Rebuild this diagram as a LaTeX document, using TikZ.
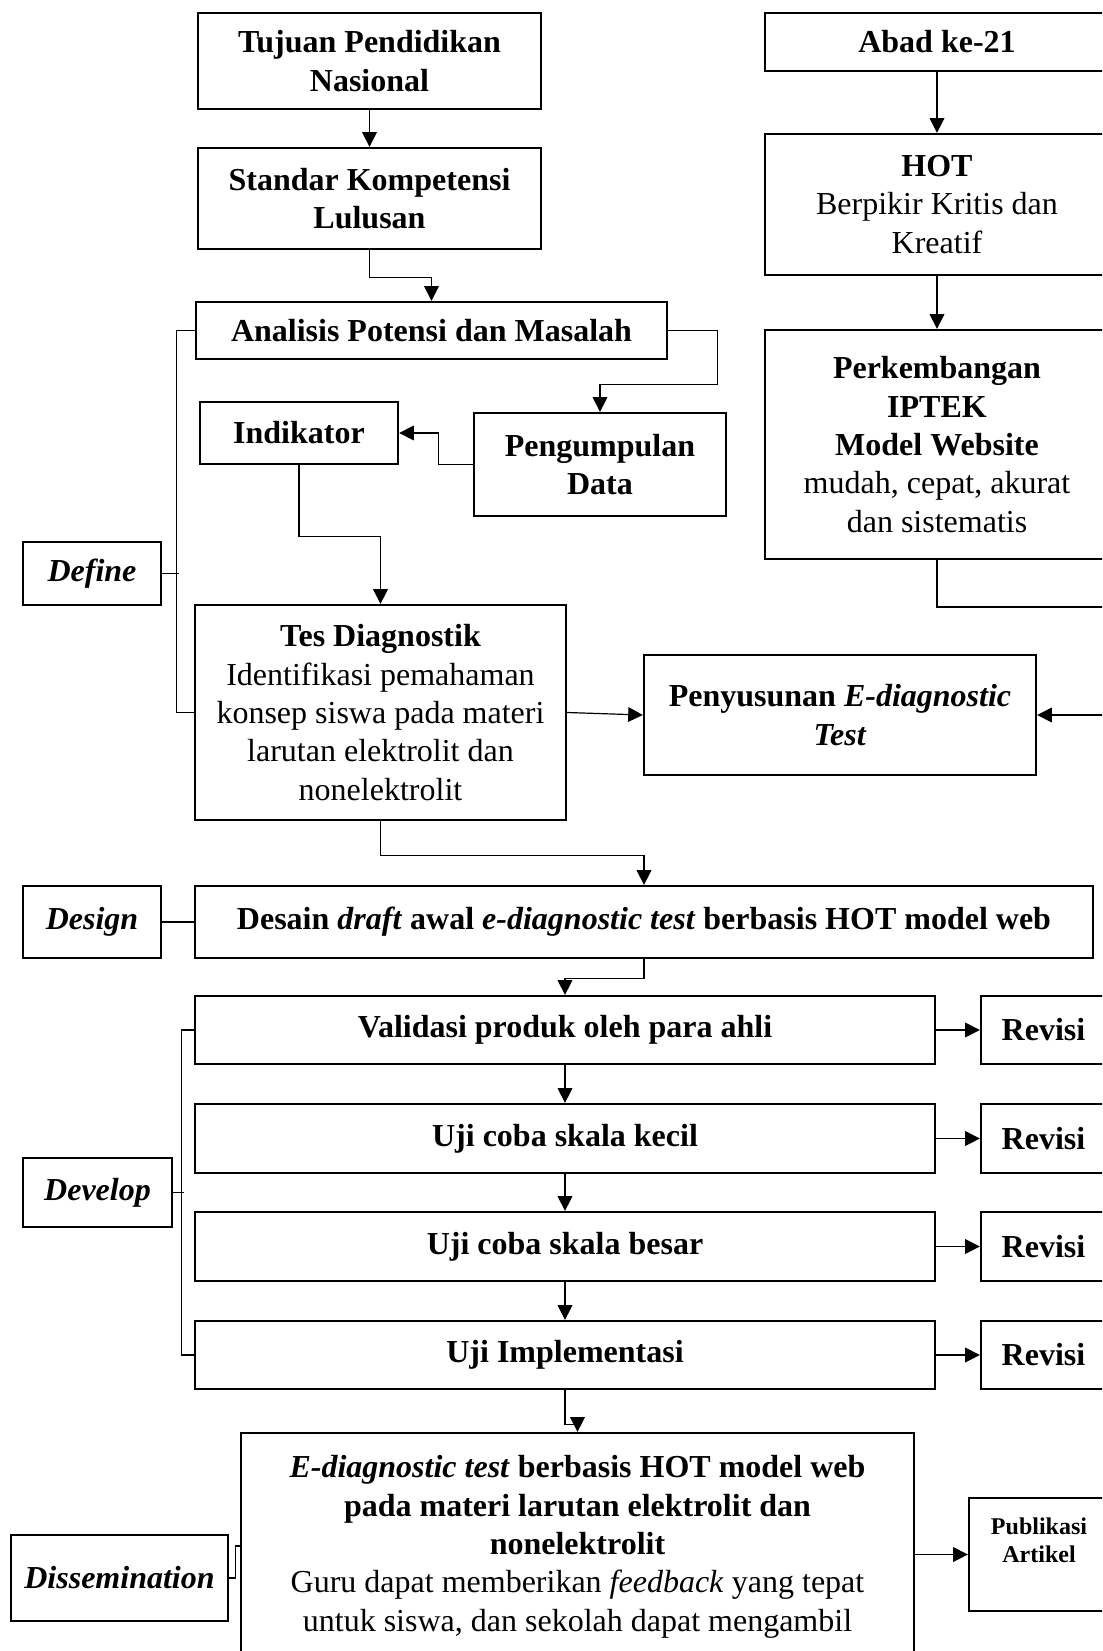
\documentclass[tikz,border=0pt]{standalone}
\usepackage{fontspec}
\setmainfont{Liberation Serif}
\usetikzlibrary{arrows.meta,calc}
\begin{document}
\begin{tikzpicture}[x=0.375pt,y=0.375pt,
  rect/.style n args={4}{minimum width={(#3-#1)*0.375pt}, minimum height={(#4-#2)*0.375pt}, at={({(#1+#3)/2},{-(#2+#4)/2})}},
  box/.style={draw, line width=0.85pt, inner sep=0pt, align=center, font=\fontsize{12}{14.4}\selectfont},
  bbox/.style={box, font=\fontsize{12}{14.4}\selectfont\bfseries},
  ibox/.style={box, font=\fontsize{12}{14.4}\selectfont\bfseries\itshape},
  conn/.style={line width=0.45pt},
  arr/.style={conn, -{Triangle[length=5.5pt,width=5.5pt]}}
]
\useasboundingbox (0,0) rectangle (1102,-1651);
\clip (0,0) rectangle (1102,-1651);

% left column
\node[bbox, rect={198}{13}{541}{109}] (tujuan) {Tujuan Pendidikan\\Nasional};
\node[bbox, rect={198}{148}{541}{249}] (std) {Standar Kompetensi\\Lulusan};
\node[bbox, rect={196}{302}{667}{359}] (ana) {Analisis Potensi dan Masalah};
\node[bbox, rect={200}{402}{398}{464}] (ind) {Indikator};
\node[bbox, rect={474}{413}{726}{516}] (peng) {Pengumpulan\\Data};
\node[ibox, rect={23}{542}{161}{605}] (def) {Define};
\node[box, rect={195}{605}{566}{820}] (tes) {\textbf{Tes Diagnostik}\\Identifikasi pemahaman\\konsep siswa pada materi\\larutan elektrolit dan\\nonelektrolit};
\node[bbox, rect={644}{655}{1036}{775}] (peny) {Penyusunan \textit{E-diagnostic}\\\textit{Test}};

% right column
\node[bbox, rect={765}{13}{1109}{71}] (abad) {Abad ke-21};
\node[box, rect={765}{134}{1109}{275}] (hot) {\textbf{HOT}\\Berpikir Kritis dan\\Kreatif};
\node[box, rect={765}{330}{1109}{559}] (perk) {\textbf{Perkembangan}\\\textbf{IPTEK}\\\textbf{Model Website}\\mudah, cepat, akurat\\dan sistematis};

% design
\node[ibox, rect={23}{886}{161}{958}] (dsg) {Design};
\node[bbox, rect={195}{886}{1093}{958}] (des) {Desain \textit{draft} awal \textit{e-diagnostic test} berbasis HOT model web};

% develop
\node[bbox, rect={195}{996}{935}{1064}] (val) {Validasi produk oleh para ahli};
\node[bbox, rect={195}{1104}{935}{1173}] (kec) {Uji coba skala kecil};
\node[bbox, rect={195}{1212}{935}{1281}] (bes) {Uji coba skala besar};
\node[bbox, rect={195}{1321}{935}{1389}] (imp) {Uji Implementasi};
\node[bbox, rect={981}{996}{1106}{1064}] (rev1) {Revisi};
\node[bbox, rect={981}{1104}{1106}{1173}] (rev2) {Revisi};
\node[bbox, rect={981}{1212}{1106}{1281}] (rev3) {Revisi};
\node[bbox, rect={981}{1321}{1106}{1389}] (rev4) {Revisi};
\node[ibox, rect={23}{1158}{172}{1227}] (dev) {Develop};

% dissemination
\node[box, rect={241}{1433}{914}{1720}] (ediag) {};
\node[inner sep=0pt, align=center, font=\fontsize{12}{14.4}\selectfont, anchor=north] (ediagtxt) at (577.5,-1455)
  {\textbf{\textit{E-diagnostic test} berbasis HOT model web}\\\textbf{pada materi larutan elektrolit dan}\\\textbf{nonelektrolit}\\Guru dapat memberikan \textit{feedback} yang tepat\\untuk siswa, dan sekolah dapat mengambil};
\node[ibox, rect={11}{1535}{228}{1621}] (diss) {Dissemination};
\node[box, rect={969}{1498}{1109}{1611}, font=\fontsize{9}{10.7}\selectfont\bfseries] (publ) {Publikasi\\Artikel\\\mbox{}};

\coordinate (rc1) at (1130,-607);
\coordinate (ediagL) at (241,-1546);

% connectors
\draw[arr] (tujuan.south) -- (std.north);
\draw[arr] (std.south) -- ++(0,-27) -| (ana.north);
\draw[arr] (ana.east) -- ++(49,0) -- ++(0,-54) -| (peng.north);
\draw[arr] (peng.west) -- ++(-34,0) |- (ind.east);
\draw[arr] (ind.south) -- ++(0,-71) -| (tes.north);
\draw[arr] (tes.east) -- (peny.west);
\draw[arr] (abad.south) -- (hot.north);
\draw[arr] (hot.south) -- (perk.north);
\draw[arr] (perk.south) |- (rc1) |- (peny.east);
\draw[arr] (tes.south) -- ++(0,-34) -| (des.north);
\draw[arr] (des.south) -- ++(0,-19) -| (val.north);
\draw[arr] (val.south) -- (kec.north);
\draw[arr] (kec.south) -- (bes.north);
\draw[arr] (bes.south) -- (imp.north);
\draw[arr] (imp.south) -- ++(0,-34) -| (ediag.north);
\draw[arr] (val.east) -- (rev1.west);
\draw[arr] (kec.east) -- (rev2.west);
\draw[arr] (bes.east) -- (rev3.west);
\draw[arr] (imp.east) -- (rev4.west);
\draw[arr] (ediag.east |- publ.west) -- (publ.west);

% brackets
\draw[conn] (ana.west) -- ++(-18,0) |- (tes.west);
\draw[conn] (def.east) -- ++(17,0);
\draw[conn] (dsg.east) -- (des.west);
\draw[conn] (val.west) -- ++(-12,0) |- (imp.west);
\draw[conn] (dev.east) -- ++(11,0);
\draw[conn] (diss.east) -- ++(6,0) |- (ediagL);
\end{tikzpicture}
\end{document}
